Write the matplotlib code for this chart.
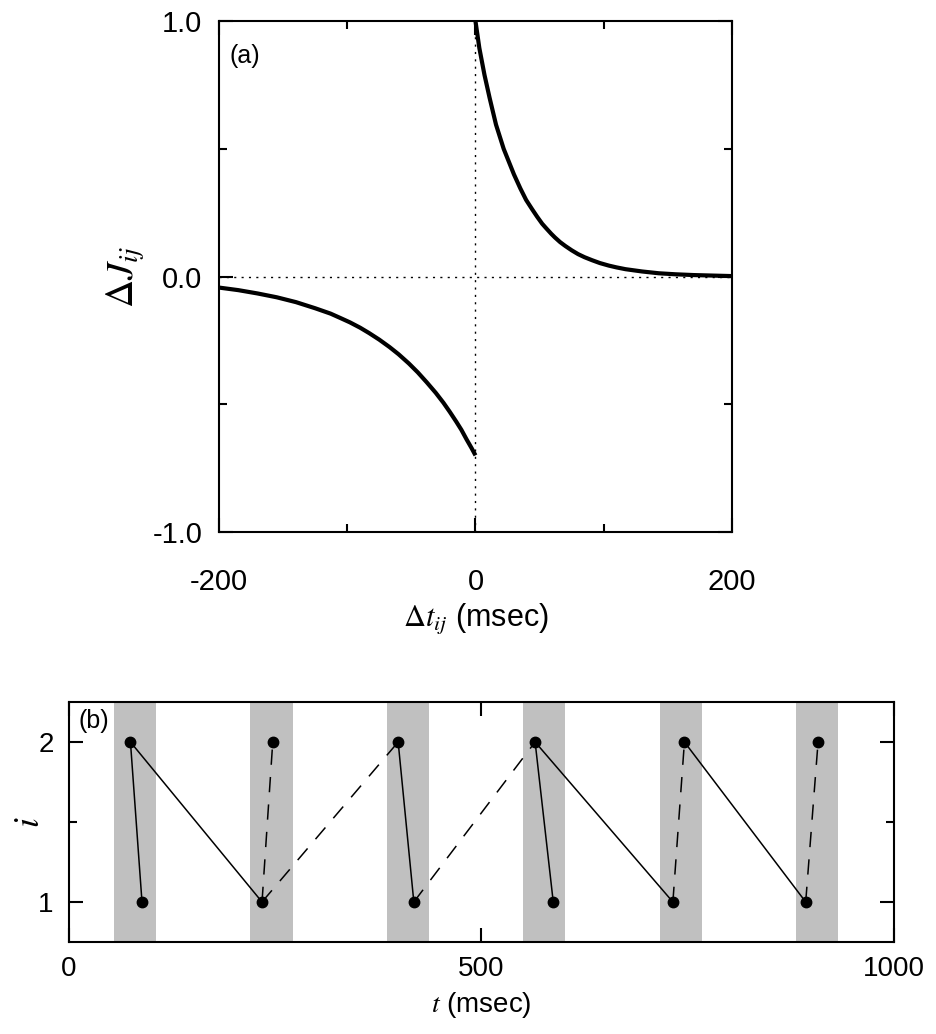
import matplotlib.pyplot as plt
from matplotlib.ticker import MultipleLocator

plt.rcParams['font.family'] = ['Liberation Sans', 'DejaVu Sans']
plt.rcParams['mathtext.fontset'] = 'stix'
plt.rcParams['axes.unicode_minus'] = False

# panel (a): learning window
dt_pos = [0, 3, 7, 11, 16, 22, 30, 35, 39.5, 44, 48, 52, 55, 59, 62, 66, 70, 75, 80, 85, 91, 97, 104, 110,
          117, 130, 143, 156, 170, 185, 200]
dj_pos = [1.0, 0.895, 0.79, 0.70, 0.595, 0.50, 0.40, 0.345, 0.30, 0.265, 0.235, 0.207, 0.19, 0.168, 0.153,
          0.135, 0.12, 0.103, 0.088, 0.076, 0.064, 0.053, 0.043, 0.036, 0.029, 0.020, 0.013, 0.009, 0.006,
          0.004, 0.002]
dt_neg = [-200, -185, -170, -155, -140, -125, -113, -105, -98, -90, -83, -75, -67, -60, -52, -45, -38, -31,
          -25, -20, -15, -11, -7, -3, 0]
dj_neg = [-0.043, -0.053, -0.066, -0.081, -0.100, -0.124, -0.145, -0.163, -0.179, -0.200, -0.221, -0.247,
          -0.276, -0.304, -0.340, -0.375, -0.414, -0.455, -0.494, -0.530, -0.568, -0.600, -0.637, -0.672,
          -0.70]

# panel (b): spikes of the two neurons
band_start = [55, 220, 385, 550, 716, 881]
band_width = 51
spike_t = [74.5, 88.5, 234, 247, 399, 418, 565, 587, 732, 746, 893, 908]
spike_i = [2, 1, 1, 2, 2, 1, 2, 1, 1, 2, 1, 2]
solid_pairs = [(0, 1), (0, 2), (4, 5), (6, 7), (6, 8), (9, 10)]
dashed_pairs = [(2, 3), (2, 4), (5, 6), (8, 9), (10, 11)]

fig = plt.figure(figsize=(9.36, 10.34), dpi=100)

# ---- (a)
ax = fig.add_axes([0.234, 0.4855, 0.548, 0.494])
ax.axhline(0, color='black', lw=1, ls=(0, (1.5, 3.8)), zorder=1)
ax.axvline(0, color='black', lw=1, ls=(0, (1.5, 3.8)), zorder=1)
ax.plot(dt_pos, dj_pos, color='black', lw=3, solid_capstyle='butt', solid_joinstyle='round', zorder=3)
ax.plot(dt_neg, dj_neg, color='black', lw=3, solid_capstyle='butt', solid_joinstyle='round', zorder=3)
ax.set_xlim(-200, 200)
ax.set_ylim(-1, 1)
ax.xaxis.set_major_locator(MultipleLocator(200))
ax.xaxis.set_minor_locator(MultipleLocator(100))
ax.yaxis.set_major_locator(MultipleLocator(1))
ax.yaxis.set_minor_locator(MultipleLocator(0.5))
ax.yaxis.set_major_formatter(plt.FormatStrFormatter('%.1f'))
ax.tick_params(which='both', direction='in', top=True, right=True, width=1.5)
ax.tick_params(which='major', length=10)
ax.tick_params(which='minor', length=5.5)
ax.tick_params(axis='y', labelsize=21, pad=12)
ax.tick_params(axis='x', labelsize=21, pad=26)
for s in ax.spines.values():
    s.set_linewidth(1.5)
ax.set_xlabel(r'$\Delta t_{ij}$ (msec)', fontsize=22, labelpad=4)
ax.set_ylabel(r'$\Delta J_{ij}$', fontsize=28, labelpad=4)
ax.text(0.021, 0.955, '(a)', transform=ax.transAxes, fontsize=18, va='top', ha='left')

# ---- (b)
bx = fig.add_axes([0.0737, 0.089, 0.8814, 0.2321])
for b in band_start:
    bx.axvspan(b, b + band_width, color='#c0c0c0', lw=0, zorder=0)
for a, b in solid_pairs:
    bx.plot([spike_t[a], spike_t[b]], [spike_i[a], spike_i[b]], color='black', lw=1.1, zorder=2)
for a, b in dashed_pairs:
    bx.plot([spike_t[a], spike_t[b]], [spike_i[a], spike_i[b]], color='black', lw=1.1,
            ls=(0, (10, 8)), zorder=2)
bx.plot(spike_t, spike_i, 'o', color='black', ms=7.5, zorder=3)
bx.set_xlim(0, 1000)
bx.set_ylim(0.75, 2.25)
bx.xaxis.set_major_locator(MultipleLocator(500))
bx.yaxis.set_major_locator(MultipleLocator(1))
bx.yaxis.set_minor_locator(MultipleLocator(0.5))
bx.tick_params(which='both', direction='in', top=True, right=True, width=1.5)
bx.tick_params(which='major', length=10)
bx.tick_params(which='minor', length=5.5)
bx.tick_params(axis='y', labelsize=20, pad=11)
bx.tick_params(axis='x', labelsize=20, pad=10)
for s in bx.spines.values():
    s.set_linewidth(1.5)
bx.set_xlabel(r'$t$ (msec)', fontsize=20, labelpad=6)
bx.set_ylabel(r'$i$', fontsize=26, labelpad=-6)
bx.text(0.012, 0.97, '(b)', transform=bx.transAxes, fontsize=18, va='top', ha='left')

fig.savefig('out.png', dpi=100)
